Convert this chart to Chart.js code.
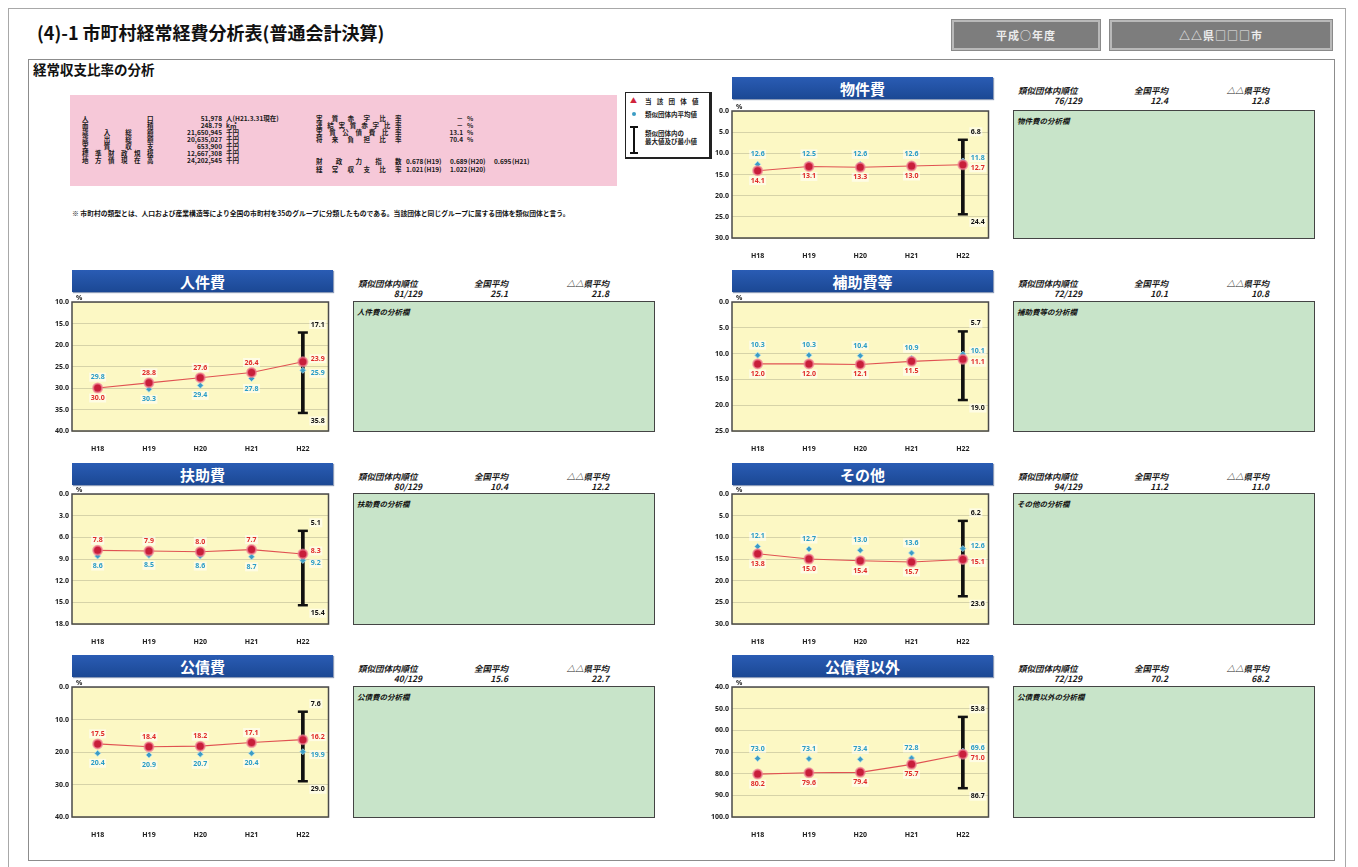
<!DOCTYPE html>
<html lang="ja">
<head>
<meta charset="utf-8">
<title>市町村経常経費分析表</title>
<script src="https://cdn.jsdelivr.net/npm/chart.js@4.4.1/dist/chart.umd.min.js"></script>
<style>
  body{margin:0;width:1358px;height:867px;background:#fff;position:relative;overflow:hidden;
       font-family:"Noto Sans CJK JP","Noto Sans",sans-serif;color:#111}
  .abs{position:absolute;white-space:nowrap;line-height:1}
  .hdr{position:absolute;height:22px;background:linear-gradient(#2a5cb4,#1b4894);color:#fff;
       font-weight:700;font-size:15px;display:flex;align-items:center;justify-content:center;
       box-shadow:1px 1px 1px #8a9ab8}
  .green{position:absolute;background:#c8e4c9;border:1px solid #444;box-sizing:border-box}
  .btn{position:absolute;height:30px;background:#7d7d7d;border:2px solid #b9b9b9;box-sizing:border-box;
       outline:1px solid #8a8a8a;color:#ececec;font-weight:700;font-size:11px;display:flex;
       align-items:center;justify-content:center;letter-spacing:1px}
  canvas{position:absolute}
</style>
</head>
<body>
<script>
// ---- 年度 ----
const years = ['H18', 'H19', 'H20', 'H21', 'H22'];

// ---- 物件費 ----
const bukkenOwn   = [14.1, 13.1, 13.3, 13.0, 12.7];
const bukkenAvg   = [12.6, 12.5, 12.6, 12.6, 11.8];
const bukkenRange = [6.8, 24.4];
const bukkenAxis  = [0, 30, 5];
const bukkenStats = ['76/129', '12.4', '12.8'];

// ---- 人件費 ----
const jinkenOwn   = [30.0, 28.8, 27.6, 26.4, 23.9];
const jinkenAvg   = [29.8, 30.3, 29.4, 27.8, 25.9];
const jinkenRange = [17.1, 35.8];
const jinkenAxis  = [10, 40, 5];
const jinkenStats = ['81/129', '25.1', '21.8'];

// ---- 補助費等 ----
const hojoOwn   = [12.0, 12.0, 12.1, 11.5, 11.1];
const hojoAvg   = [10.3, 10.3, 10.4, 10.9, 10.1];
const hojoRange = [5.7, 19.0];
const hojoAxis  = [0, 25, 5];
const hojoStats = ['72/129', '10.1', '10.8'];

// ---- 扶助費 ----
const fujoOwn   = [7.8, 7.9, 8.0, 7.7, 8.3];
const fujoAvg   = [8.6, 8.5, 8.6, 8.7, 9.2];
const fujoRange = [5.1, 15.4];
const fujoAxis  = [0, 18, 3];
const fujoStats = ['80/129', '10.4', '12.2'];

// ---- その他 ----
const sonotaOwn   = [13.8, 15.0, 15.4, 15.7, 15.1];
const sonotaAvg   = [12.1, 12.7, 13.0, 13.6, 12.6];
const sonotaRange = [6.2, 23.6];
const sonotaAxis  = [0, 30, 5];
const sonotaStats = ['94/129', '11.2', '11.0'];

// ---- 公債費 ----
const kosaiOwn   = [17.5, 18.4, 18.2, 17.1, 16.2];
const kosaiAvg   = [20.4, 20.9, 20.7, 20.4, 19.9];
const kosaiRange = [7.6, 29.0];
const kosaiAxis  = [0, 40, 10];
const kosaiStats = ['40/129', '15.6', '22.7'];

// ---- 公債費以外 ----
const igaiOwn   = [80.2, 79.6, 79.4, 75.7, 71.0];
const igaiAvg   = [73.0, 73.1, 73.4, 72.8, 69.6];
const igaiRange = [53.8, 86.7];
const igaiAxis  = [40, 100, 10];
const igaiStats = ['72/129', '70.2', '68.2'];

const statHeads = ['類似団体内順位', '全国平均', '△△県平均'];

// ---- 団体の概要 ----
const profileLabels = ['人口', '面積', '歳入総額', '歳出総額', '実質収支', '標準財政規模', '地方債現在高'];
const profileValues = ['51,978', '248.79', '21,650,945', '20,635,027', '653,900', '12,667,308', '24,202,545'];
const profileUnits  = ['人(H21.3.31現在)', 'k㎡', '千円', '千円', '千円', '千円', '千円'];
const ratioLabels = ['実質赤字比率', '連結実質赤字比率', '実質公債費比率', '将来負担比率'];
const ratioValues = ['－', '－', '13.1', '70.4'];
const indexLabels = ['財政力指数', '経常収支比率'];
const indexValues = [['0.678', '(H19)', '0.689', '(H20)', '0.695', '(H21)'],
                     ['1.021', '(H19)', '1.022', '(H20)', '', '']];

// ---------------------------------------------------------------
const body = document.body;
function put(text, x, y, css) {
  const d = document.createElement('div');
  d.className = 'abs';
  d.textContent = text;
  d.style.left = x + 'px';
  d.style.top = y + 'px';
  if (css) Object.assign(d.style, css);
  body.appendChild(d);
  return d;
}
function box(x, y, w, h, css, cls) {
  const d = document.createElement('div');
  d.className = cls || 'abs';
  Object.assign(d.style, { left: x + 'px', top: y + 'px', width: w + 'px', height: h + 'px' }, css || {});
  body.appendChild(d);
  return d;
}
// text spread evenly over a given width
function spread(text, x, y, w, css) {
  const chars = [...text];
  const n = chars.length;
  chars.forEach((c, i) => {
    const cx = n === 1 ? x : x + (w - 7) * i / (n - 1);
    put(c, cx, y, css);
  });
}

// page frames
box(8, 8, 1338, 870, { border: '1px solid #a8a8a8', boxSizing: 'border-box' });
box(28, 59, 1307, 802, { border: '1px solid #8c8c8c', boxSizing: 'border-box' });

// heading
put('(4)-1 市町村経常経費分析表(普通会計決算)', 37, 23, { fontSize: '18px', fontWeight: '700' });
const b1 = box(952, 20, 148, 30, null, 'btn'); b1.textContent = '平成○年度';
const b2 = box(1110, 20, 222, 30, null, 'btn'); b2.textContent = '△△県□□□市';

put('経常収支比率の分析', 33, 63, { fontSize: '13.5px', fontWeight: '700' });

// profile panel
box(70, 95, 547, 91, { background: '#f6c8d8' });
const tiny = { fontSize: '6.5px', fontWeight: '700', color: '#1a1a1a' };
profileLabels.forEach((lab, i) => {
  const y = 115 + i * 7;
  spread(lab, 82, y, 72, tiny);
  put(profileValues[i], 150, y, Object.assign({ width: '72px', textAlign: 'right' }, tiny));
  put(profileUnits[i], 226, y, tiny);
});
ratioLabels.forEach((lab, i) => {
  const y = 115 + i * 7;
  spread(lab, 316, y, 86, tiny);
  put(ratioValues[i], 430, y, Object.assign({ width: '33px', textAlign: 'right' }, tiny));
  put('%', 467, y, tiny);
});
indexLabels.forEach((lab, i) => {
  const y = 158 + i * 8;
  spread(lab, 316, y, 86, tiny);
  indexValues[i].forEach((t, k) => put(t, 406 + k * 22 + (k % 2 ? -4 : 0), y, tiny));
});

// legend
box(625, 92, 87, 67, { border: '1px solid #222', borderRightWidth: '3px', borderBottomWidth: '2px', background: '#fff', boxSizing: 'border-box' });
put('▲', 630, 97, { fontSize: '7px', color: '#d0243c' });
spread('当該団体値', 645, 98, 54, tiny);
box(632, 112, 4, 4, { background: '#3b9cc4', borderRadius: '50%' });
put('類似団体内平均値', 645, 111, tiny);
box(633, 126, 2, 28, { background: '#111' });
box(630, 126, 8, 2, { background: '#111' });
box(630, 152, 8, 2, { background: '#111' });
put('類似団体内の', 645, 130, tiny);
put('最大値及び最小値', 645, 138, tiny);

put('※ 市町村の類型とは、人口および産業構造等により全国の市町村を35のグループに分類したものである。当該団体と同じグループに属する団体を類似団体と言う。',
    72, 210, { fontSize: '6.8px', fontWeight: '700' });

// ---------------------------------------------------------------
// chart panels
const COL = [72, 732];
const PLOT_W = 261;
const panels = [
  { title: '物件費',     col: 1, hdr: 77,  top: 111, bot: 238, own: bukkenOwn, avg: bukkenAvg, range: bukkenRange, axis: bukkenAxis, stats: bukkenStats },
  { title: '人件費',     col: 0, hdr: 270, top: 302, bot: 431, own: jinkenOwn, avg: jinkenAvg, range: jinkenRange, axis: jinkenAxis, stats: jinkenStats },
  { title: '補助費等',   col: 1, hdr: 270, top: 302, bot: 431, own: hojoOwn,   avg: hojoAvg,   range: hojoRange,   axis: hojoAxis,   stats: hojoStats },
  { title: '扶助費',     col: 0, hdr: 463, top: 494, bot: 624, own: fujoOwn,   avg: fujoAvg,   range: fujoRange,   axis: fujoAxis,   stats: fujoStats },
  { title: 'その他',     col: 1, hdr: 463, top: 494, bot: 624, own: sonotaOwn, avg: sonotaAvg, range: sonotaRange, axis: sonotaAxis, stats: sonotaStats },
  { title: '公債費',     col: 0, hdr: 655, top: 687, bot: 817, own: kosaiOwn,  avg: kosaiAvg,  range: kosaiRange,  axis: kosaiAxis,  stats: kosaiStats },
  { title: '公債費以外', col: 1, hdr: 655, top: 687, bot: 817, own: igaiOwn,   avg: igaiAvg,   range: igaiRange,   axis: igaiAxis,   stats: igaiStats }
];

const RED = '#c81e3a', RED_TXT = '#e02a2a', BLUE = '#3b9cc4', BLUE_TXT = '#2a9cc8';
const LABEL_FONT = 'bold 7px "Noto Sans", sans-serif';

// fills the plot area and outlines it
const plotFrame = {
  id: 'plotFrame',
  beforeDraw(chart) {
    const { ctx, chartArea: a } = chart;
    ctx.save();
    ctx.fillStyle = '#fcf8c4';
    ctx.fillRect(a.left, a.top, a.right - a.left, a.bottom - a.top);
    ctx.restore();
  },
  afterDraw(chart) {
    const { ctx, chartArea: a } = chart;
    ctx.save();
    ctx.strokeStyle = '#4a4a4a';
    ctx.lineWidth = 1.5;
    ctx.strokeRect(a.left, a.top, a.right - a.left, a.bottom - a.top);
    ctx.fillStyle = '#222';
    ctx.font = LABEL_FONT;
    ctx.textBaseline = 'bottom';
    ctx.fillText('%', a.left + 4, a.top - 1);
    ctx.restore();
  }
};

// writes values next to the marks
function tag(ctx, text, x, y, color, align) {
  ctx.font = LABEL_FONT;
  ctx.textAlign = align;
  ctx.textBaseline = 'middle';
  const w = ctx.measureText(text).width;
  const bx = align === 'center' ? x - w / 2 : x;
  ctx.fillStyle = 'rgba(255,255,255,0.55)';
  ctx.fillRect(bx - 1.5, y - 4.5, w + 3, 9);
  ctx.fillStyle = color;
  ctx.fillText(text, x, y);
}
const valueTags = {
  id: 'valueTags',
  afterDatasetsDraw(chart) {
    const { ctx } = chart;
    const ds = chart.data.datasets;
    const own = chart.getDatasetMeta(0).data;
    const avg = chart.getDatasetMeta(1).data;
    const capTop = chart.getDatasetMeta(3).data;
    const capBot = chart.getDatasetMeta(4).data;
    const last = own.length - 1;
    ctx.save();
    for (let i = 0; i < last; i++) {
      const o = own[i], a = avg[i];
      const ot = ds[0].data[i].toFixed(1), at = ds[1].data[i].toFixed(1);
      if (o.y <= a.y) {
        tag(ctx, ot, o.x, o.y - 10, RED_TXT, 'center');
        tag(ctx, at, a.x, a.y + 10, BLUE_TXT, 'center');
      } else {
        tag(ctx, at, a.x, a.y - 10, BLUE_TXT, 'center');
        tag(ctx, ot, o.x, o.y + 10, RED_TXT, 'center');
      }
    }
    // latest year: values to the right of the range bar
    const o = own[last], a = avg[last];
    const x = o.x + 8;
    const upper = o.y <= a.y ? ['own', o.y] : ['avg', a.y];
    const lower = o.y <= a.y ? ['avg', a.y] : ['own', o.y];
    let uy = upper[1] - 3, ly = lower[1] + 3;
    if (ly - uy < 10) { const m = (uy + ly) / 2; uy = m - 5; ly = m + 5; }
    const txt = k => (k === 'own' ? ds[0] : ds[1]).data[last].toFixed(1);
    const col = k => (k === 'own' ? RED_TXT : BLUE_TXT);
    tag(ctx, txt(upper[0]), x, uy, col(upper[0]), 'left');
    tag(ctx, txt(lower[0]), x, ly, col(lower[0]), 'left');
    tag(ctx, ds[3].data[last].toFixed(1), x, capTop[last].y - 8, '#111', 'left');
    tag(ctx, ds[4].data[last].toFixed(1), x, capBot[last].y + 8, '#111', 'left');
    ctx.restore();
  }
};

panels.forEach(p => {
  const left = COL[p.col];
  const h = box(left, p.hdr, PLOT_W, 22, null, 'hdr');
  h.textContent = p.title;

  // rank and averages
  const sx = left + 286;
  const st = { fontSize: '8.5px', fontWeight: '700', fontStyle: 'italic', color: '#1a1a1a' };
  put(statHeads[0], sx, p.hdr + 9, st);
  put(p.stats[0], sx, p.hdr + 19, Object.assign({ width: '64px', textAlign: 'right' }, st));
  put(statHeads[1], sx + 114, p.hdr + 9, Object.assign({ width: '36px', textAlign: 'right' }, st));
  put(p.stats[1], sx + 114, p.hdr + 19, Object.assign({ width: '36px', textAlign: 'right' }, st));
  put(statHeads[2], sx + 191, p.hdr + 9, Object.assign({ width: '60px', textAlign: 'right' }, st));
  put(p.stats[2], sx + 191, p.hdr + 19, Object.assign({ width: '60px', textAlign: 'right' }, st));

  box(left + 281, p.top - 1, 302, p.bot - p.top + 2, null, 'green');
  put(p.title + 'の分析欄', left + 285, p.top + 6, { fontSize: '7.5px', fontWeight: '700', fontStyle: 'italic' });

  // chart
  const cv = document.createElement('canvas');
  const W = PLOT_W + 34 + 3, H = (p.bot - p.top) + 8 + 20;
  cv.width = W; cv.height = H;
  cv.style.left = (left - 34) + 'px';
  cv.style.top = (p.top - 8) + 'px';
  body.appendChild(cv);

  const lastOnly = v => years.map((_, i) => (i === years.length - 1 ? v : null));

  new Chart(cv, {
    type: 'line',
    data: {
      labels: years,
      datasets: [
        { label: '当該団体値', data: p.own, borderColor: '#e05252', borderWidth: 1.1,
          pointRadius: 4.5, pointBackgroundColor: RED, pointBorderColor: 'rgba(240,130,150,0.7)',
          pointBorderWidth: 2, tension: 0, order: 1, clip: false },
        { label: '類似団体内平均値', data: p.avg, showLine: false, pointStyle: 'rectRot',
          pointRadius: 3, pointBackgroundColor: BLUE, pointBorderColor: 'rgba(170,220,240,0.8)',
          pointBorderWidth: 1, order: 2, clip: false },
        { type: 'bar', label: '最大値及び最小値', data: lastOnly(p.range),
          backgroundColor: '#111', barThickness: 3, order: 3 },
        { label: '最小値', data: lastOnly(p.range[0]), showLine: false, pointStyle: 'line',
          pointRadius: 5, pointBorderWidth: 2.5, pointBorderColor: '#111', order: 3, clip: false },
        { label: '最大値', data: lastOnly(p.range[1]), showLine: false, pointStyle: 'line',
          pointRadius: 5, pointBorderWidth: 2.5, pointBorderColor: '#111', order: 3, clip: false }
      ]
    },
    options: {
      responsive: false,
      animation: false,
      devicePixelRatio: 1,
      layout: { padding: { top: 8, right: 3, left: 0, bottom: 0 } },
      plugins: { legend: { display: false }, tooltip: { enabled: false } },
      scales: {
        x: {
          offset: true,
          grid: { display: false },
          border: { display: false },
          ticks: { color: '#222', font: { size: 7, weight: 'bold', family: 'Noto Sans' }, padding: 6, maxRotation: 0 },
          afterFit(s) { s.height = 20; }
        },
        y: {
          reverse: true,
          min: p.axis[0], max: p.axis[1],
          grid: { color: '#d6d3a8', drawTicks: false },
          border: { display: false },
          ticks: { stepSize: p.axis[2], color: '#222', padding: 3,
                   font: { size: 7, weight: 'bold', family: 'Noto Sans' },
                   callback: v => Number(v).toFixed(1) },
          afterFit(s) { s.width = 34; }
        }
      }
    },
    plugins: [plotFrame, valueTags]
  });
});
</script>
</body>
</html>
